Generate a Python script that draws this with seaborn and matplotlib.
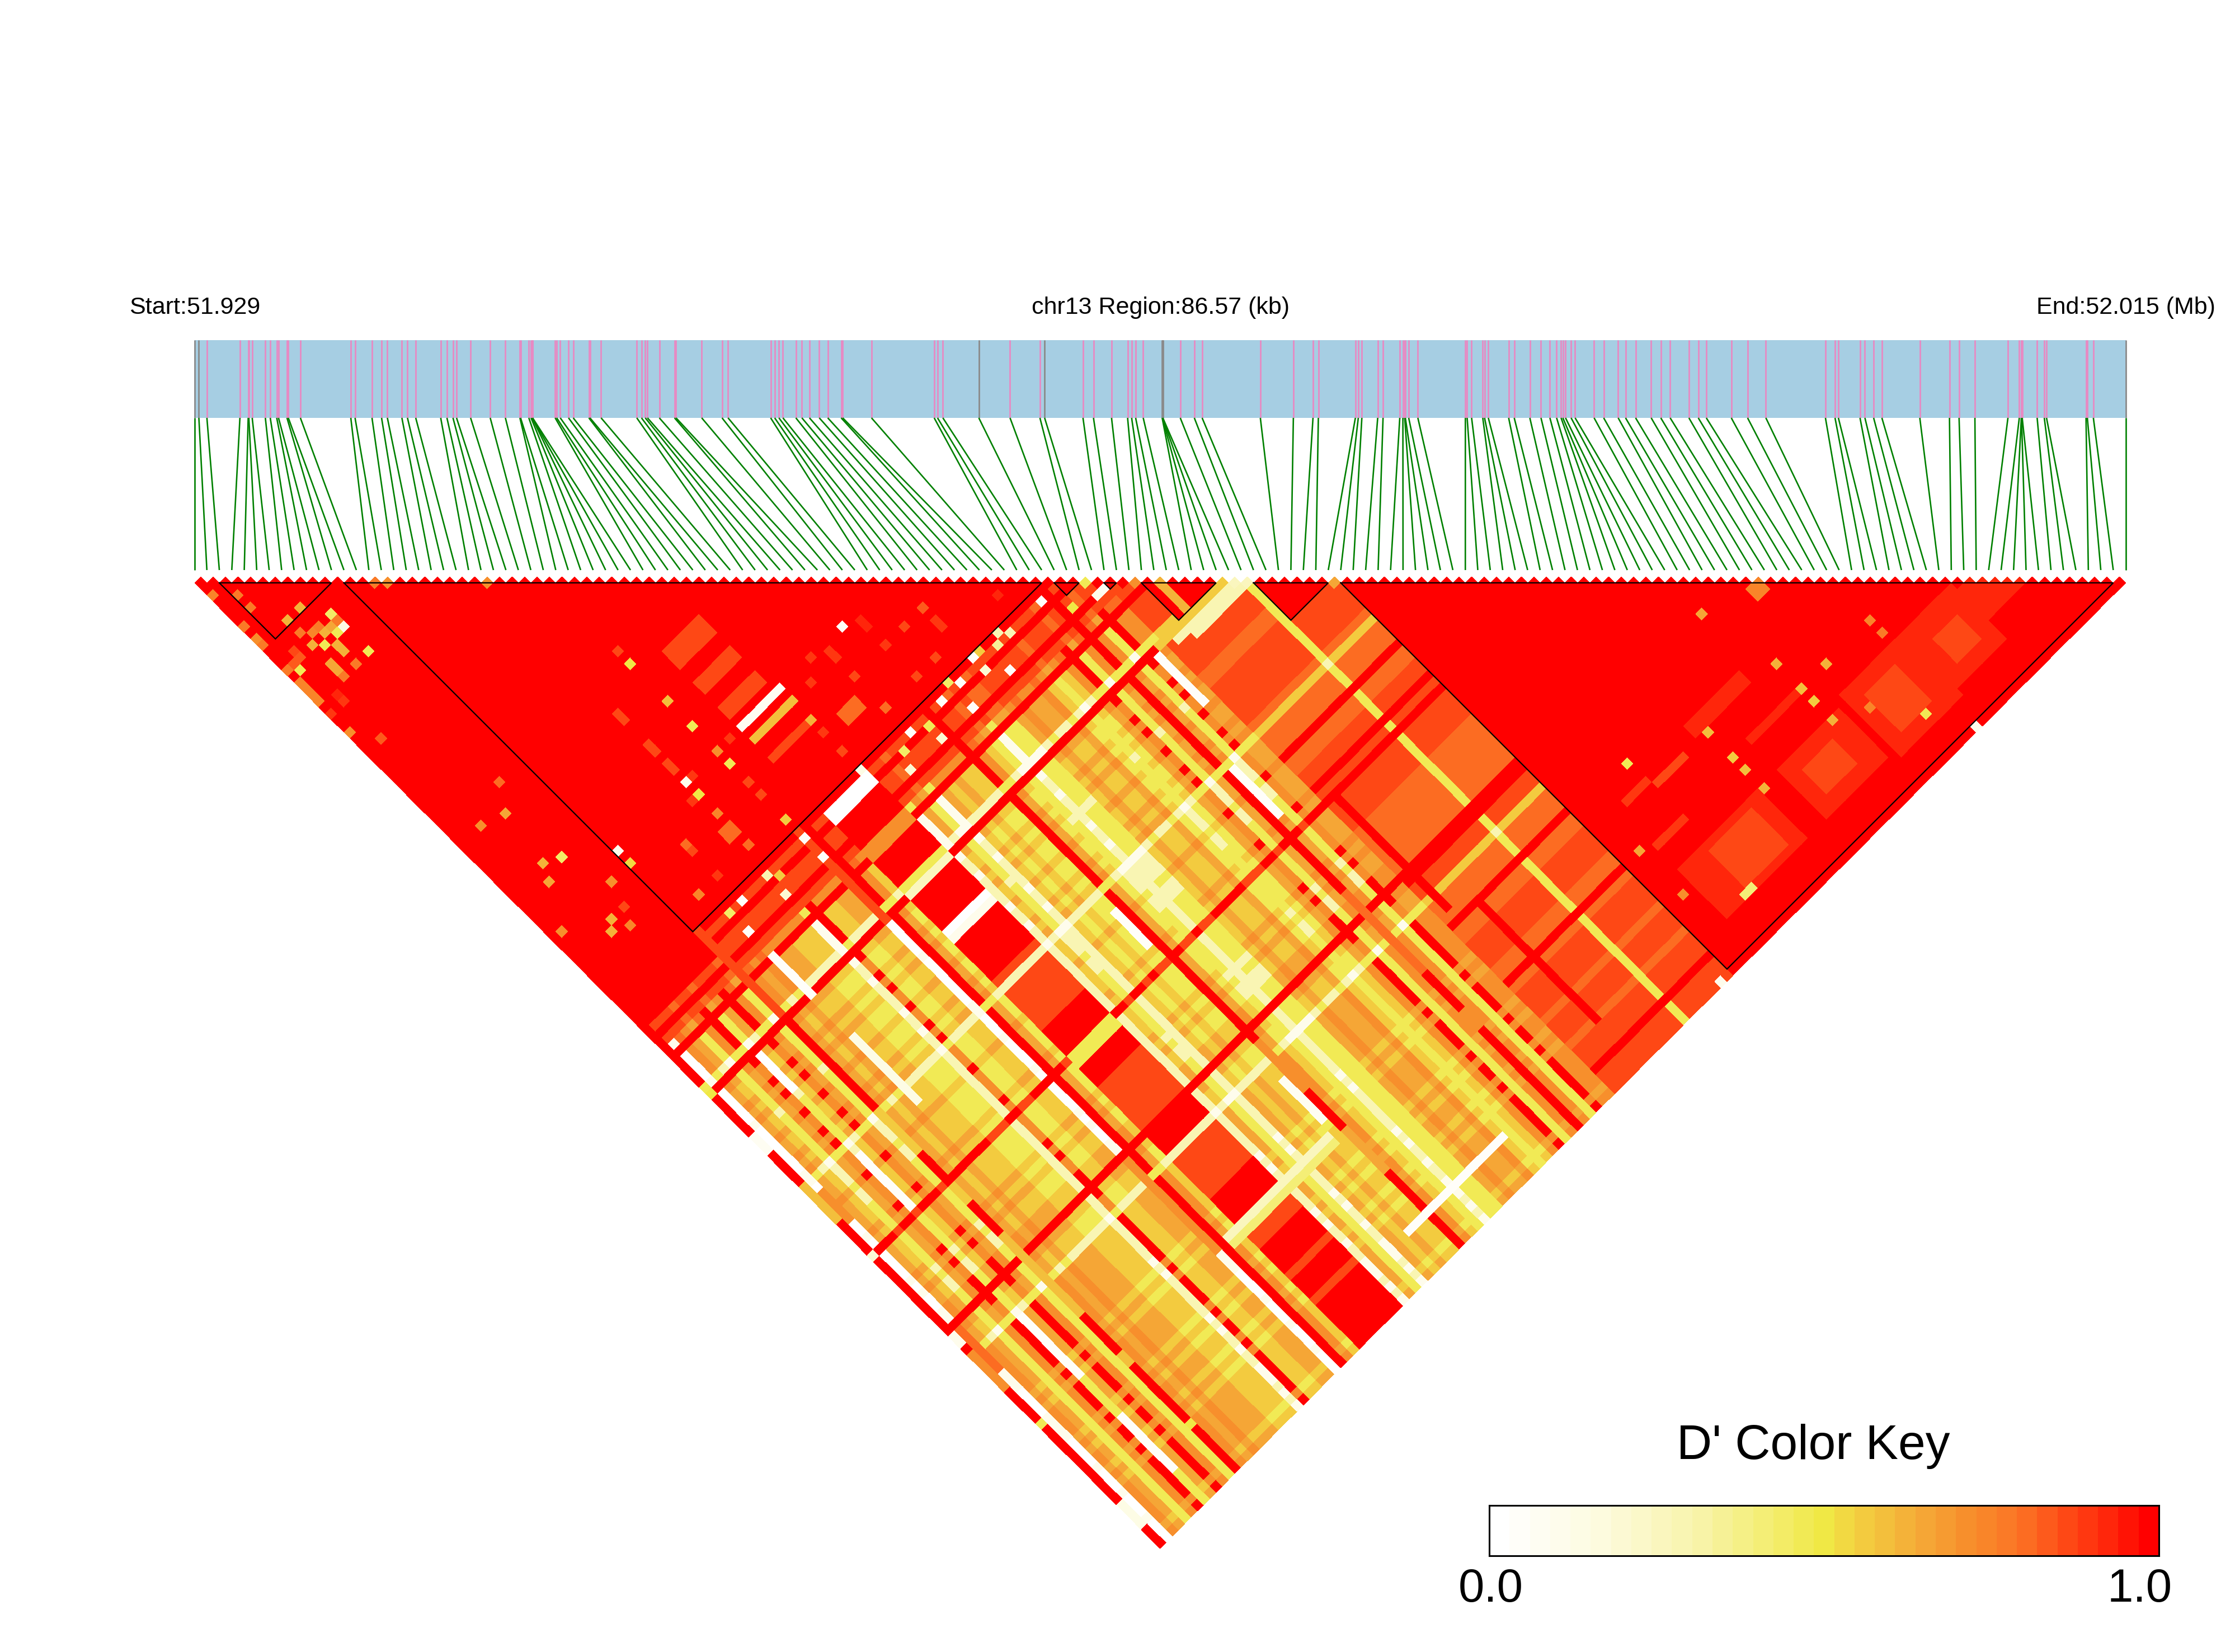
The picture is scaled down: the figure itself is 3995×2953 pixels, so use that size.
import numpy as np
import matplotlib
matplotlib.use('Agg')
import matplotlib.pyplot as plt
from matplotlib.colors import LinearSegmentedColormap
from matplotlib.patches import Rectangle
from matplotlib.transforms import Affine2D
import seaborn as sns

# SNP positions, kb from region start
snp_kb = [0, 0.20, 0.56, 2.04, 2.41, 2.44, 2.59, 3.18, 3.40, 3.69, 3.77, 4.15, 4.21, 4.75, 7.01, 7.20,
          7.96, 8.39, 8.65, 9.30, 9.55, 9.92, 11.04, 11.32, 11.59, 11.75, 12.38, 13.26, 13.94, 14.59,
          14.62, 14.99, 15.09, 15.14, 15.15, 15.16, 16.17, 16.24, 16.40, 16.77, 16.98, 17.68, 17.73,
          18.23, 19.83, 20.04, 20.21, 20.31, 20.84, 21.52, 21.59, 22.74, 23.65, 23.92, 25.83, 26.01,
          26.20, 26.38, 26.96, 27.23, 27.57, 28.01, 28.39, 28.99, 29.06, 30.35, 33.16, 33.31, 33.55,
          35.16, 36.56, 37.90, 38.11, 39.83, 40.30, 41.11, 41.83, 42.01, 42.19, 42.53, 43.38, 43.39,
          43.40, 43.41, 44.19, 44.82, 45.17, 47.78, 49.26, 50.14, 50.38, 52.04, 52.17, 52.33, 53.04,
          53.28, 54.03, 54.17, 54.25, 54.28, 54.43, 54.84, 56.97, 57.05, 57.25, 57.75, 57.83, 58.00,
          58.91, 59.16, 59.86, 60.36, 60.76, 61.06, 61.26, 61.34, 61.46, 61.71, 61.89, 62.74, 63.17,
          63.82, 64.15, 64.60, 65.30, 65.73, 66.15, 66.99, 67.41, 67.77, 68.89, 69.62, 70.44, 73.11,
          73.54, 73.69, 74.66, 74.88, 75.27, 75.64, 77.34, 78.67, 79.10, 79.81, 81.29, 81.80, 81.89,
          81.90, 81.93, 82.60, 82.92, 83.02, 84.79, 84.85, 85.12, 86.57]
grey_kb = [0, 0.20, 35.16, 38.11, 43.38, 43.39, 43.40, 43.41, 86.57]

# haplotype blocks (first SNP, last SNP)
hap_blocks = [(2, 11), (12, 68), (69, 71), (73, 74), (76, 82), (85, 91), (92, 154)]
# areas of full D' (i0, i1, j0, j1)
red_areas = [(0, 11, 0, 72), (12, 68, 12, 68), (69, 71, 69, 71), (73, 74, 73, 74), (76, 82, 76, 82),
             (85, 91, 85, 91), (92, 155, 92, 155)]

# D' levels used in the band table
levels = [0.0, 0.12, 0.30, 0.48, 0.56, 0.64, 0.72, 0.80, 0.87, 1.0]
col_keys = 'ewpqaznyosrtux'
band_table = {
    'R': '91399999999991',
    'W': '80190010199110',
    'P': '80191222399220',
    'Q': '70293333399992',
    'B': '80229988639899',
    'A': '80295454699551',
    'G': '81294343689441',
    'Y': '70193332589330',
    'O': '81396565799662',
    'E': '83498877899994',
    'S': '80399696999991',
}
# band of SNP as left member of a pair (SNP 0-91)
row_bands = ('RWOAYOSYASOY' 'ROAOA' 'AAGGG' 'PS' 'GGAA' 'WROG' 'BBBBBBB' 'PAYPAGAGGR'
             'OGYPYYAOAAOGYGOSYORO' 'YSOOEEEEE' 'EEEEEE' 'Q' 'EEEEEEE')
# band of SNP as right member of a pair (SNP 69-155)
col_bands = ('r' 'er' 'eere' 'o' 'q' 'aaaa' 'p' 'q' 'azzaz' 'n' 'y' 'zazzaz' 'n' 'p' 'yyy' 't' 'yy' 'zz'
             'u' 'z' 's' 'z' 'zzz' 'nynyynn' 'r' 'u' 'zz' 'p' 'nnn' 't' 'nn' 'azaz' 'nn' 't' 'n' 'zaza'
             'n' 'zaz' 'n' 'a' 'a' 'a' 'u' 'aza')

patches = [
    (32, 37, 44, 46, .87), (32, 37, 49, 50, .87), (32, 37, 53, 54, .87), (32, 38, 56, 56, .08),
    (32, 38, 58, 58, .60), (32, 37, 61, 61, .87), (38, 38, 61, 61, .62), (41, 43, 63, 64, .80),
    (23, 23, 50, 51, .85), (23, 23, 53, 54, .87), (23, 23, 45, 46, .87), (22, 23, 63, 64, .80),
    (45, 45, 57, 58, .90), (50, 50, 57, 58, .92), (56, 56, 63, 64, .90),
    (112, 121, 143, 150, .93), (114, 118, 145, 148, .87), (96, 108, 143, 150, .93), (100, 106, 144, 149, .87),
    (123, 132, 142, 151, .93), (125, 129, 144, 149, .87), (132, 140, 142, 150, .93), (135, 138, 145, 148, .87),
    (139, 147, 143, 147, .93), (108, 116, 132, 133, .93), (112, 120, 138, 138, .93), (96, 100, 139, 139, .90),
    (97, 100, 133, 133, .90), (101, 105, 134, 134, .87), (124, 125, 126, 127, .75),
    (0, 0, 17, 20, .74), (4, 4, 18, 19, .64), (6, 6, 17, 18, .62),
    # big rows, left end of the plaid
    (32, 38, 70, 71, .02), (32, 38, 72, 75, 1.0), (32, 38, 76, 77, .72), (32, 38, 82, 82, .48), (32, 38, 83, 83, .25),
    (32, 38, 89, 89, .02), (32, 38, 90, 90, .12), (32, 38, 110, 110, .48),
    (30, 46, 136, 136, .25), (30, 46, 137, 137, .40), (45, 60, 150, 150, .04),
    # pieces of the white and red rows
    (68, 68, 99, 106, .05), (71, 71, 84, 91, .05), (47, 47, 101, 106, .05), (47, 47, 128, 134, .08),
    (16, 16, 77, 83, .05), (16, 16, 90, 100, .15), (28, 28, 69, 83, .87), (28, 28, 122, 136, .72),
    (7, 7, 84, 89, .03), (7, 7, 100, 108, .05), (7, 7, 126, 135, .05), (7, 7, 142, 150, .05),
    (1, 1, 100, 104, .72), (1, 1, 122, 128, .80),
    (67, 67, 118, 130, .80), (67, 67, 137, 139, .72), (74, 74, 110, 127, 1.0), (77, 77, 130, 148, 1.0),
    (48, 48, 123, 130, .72), (48, 48, 137, 143, .64),
    (12, 12, 69, 82, .87), (12, 12, 98, 104, .56), (12, 12, 110, 112, .56), (12, 12, 118, 130, .60),
    (12, 12, 137, 138, .60), (12, 12, 148, 148, .50),
    (0, 0, 83, 83, .50), (0, 0, 90, 92, .08), (0, 0, 98, 103, .60), (0, 0, 109, 109, .20), (0, 0, 122, 123, .10),
    (0, 0, 125, 130, .70), (0, 0, 136, 136, .48), (0, 0, 149, 152, .15),
    (77, 77, 78, 82, .62),
]
spots = [
    (48, 56, .05), (28, 48, .58), (28, 52, .48), (28, 58, .48), (28, 56, .72), (28, 42, .50), (28, 40, .85),
    (23, 56, .10), (23, 58, .50), (24, 56, .90), (22, 58, .90), (12, 56, .10), (12, 58, .52), (28, 67, .55),
    (23, 61, .75), (28, 63, .85), (28, 61, .85), (30, 56, .90), (38, 66, .87), (38, 63, .90), (45, 66, .80),
    (50, 66, .85), (53, 66, .85), (56, 61, .82), (63, 66, .92), (53, 61, .87), (50, 61, .90), (43, 56, .90),
    (45, 61, .85), (41, 58, .90), (23, 66, .80), (18, 66, .88), (18, 61, .80), (18, 62, .85), (15, 66, .75),
    (8, 61, .87), (7, 63, .75), (5, 62, .62),
    (118, 124, .64), (120, 134, .62), (124, 138, .62), (120, 138, .58), (120, 140, .57), (120, 143, .62),
    (109, 134, .58), (109, 138, .56), (109, 140, .60), (109, 143, .62), (100, 130, .48), (94, 138, .65),
    (131, 138, .75), (131, 140, .78), (124, 145, .75), (128, 150, .48), (94, 145, .72), (100, 150, .42),
    (99, 150, .42), (131, 155, .12), (90, 155, .10),
    (0, 3, .74), (2, 5, .76), (2, 7, .76), (6, 11, .62), (4, 11, .62), (8, 14, .44), (8, 15, .78), (8, 16, .15),
    (7, 16, .48), (7, 15, .66), (6, 14, .76), (6, 15, .62), (4, 13, .76), (5, 14, .74), (4, 15, .62), (5, 16, .48),
    (0, 8, .76), (0, 10, .72), (0, 11, .78), (2, 14, .85), (2, 15, .84), (1, 15, .84), (0, 15, .76), (1, 16, .48),
    (8, 20, .48), (6, 20, .78), (4, 20, .76), (2, 22, .90), (2, 21, .92), (0, 22, .90), (0, 25, .72), (2, 28, .84),
    (8, 41, .80), (6, 44, .66), (3, 43, .70), (5, 51, .62), (7, 52, .45), (4, 53, .66), (9, 58, .72), (6, 61, .62),
    (1, 58, .70),
    # tips along the top row
    (14, 15, .76), (15, 16, .70), (23, 24, .72), (71, 72, .48), (72, 74, .08), (75, 76, .72), (91, 92, .66),
    (82, 83, .56), (83, 84, .25), (84, 85, .25),
    # specks right of the second block
    (56, 69, .05), (38, 69, .15), (57, 69, .55), (66, 70, .04), (68, 73, .50), (60, 69, .30), (61, 70, .30),
    (59, 70, .35), (56, 71, .20), (58, 73, .04), (53, 70, .04), (50, 70, .04), (52, 73, .04), (45, 70, .04),
    (47, 71, .48), (52, 69, .45), (42, 73, .20), (43, 71, .45), (47, 73, .20), (28, 70, .05), (28, 73, .05),
    (22, 70, .30), (23, 71, .56), (18, 70, .04), (22, 73, .20), (16, 70, .45), (16, 73, .04), (71, 74, .10),
]
# gold and pale bands hanging off the tips between the two big blocks
bands_mid = [(72, 82, 83, 83, .56), (74, 83, 84, 84, .30), (76, 84, 85, 85, .30)]

key_title = "D' Color Key"
key_ticks = ['0.0', '1.0']
start_label = 'Start:51.929'
mid_label = 'chr13 Region:86.57 (kb)'
end_label = 'End:52.015 (Mb)'

n_snp = len(snp_kb)

ld = np.full((n_snp, n_snp), np.nan)
for i in range(n_snp):
    for j in range(i + 1, n_snp):
        if j - i == 1 or i >= 92 or j < 69:
            ld[i, j] = 1.0
        else:
            digit = band_table[row_bands[i]][col_keys.index(col_bands[j - 69])]
            ld[i, j] = levels[int(digit)]
for i0, i1, j0, j1 in red_areas:
    for i in range(i0, i1 + 1):
        for j in range(max(j0, i + 1), j1 + 1):
            ld[i, j] = 1.0
for i0, i1, j0, j1, val in patches + bands_mid:
    for i in range(i0, i1 + 1):
        for j in range(max(j0, i + 1), j1 + 1):
            ld[i, j] = val
for i, j, val in spots:
    ld[i, j] = val

cmap = LinearSegmentedColormap.from_list(
    'dprime',
    [(0.0, '#ffffff'), (0.15, '#fdfbe0'), (0.30, '#f8f4ad'), (0.50, '#f0e845'), (0.56, '#f3cc3f'),
     (0.64, '#f4ac38'), (0.72, '#f78f2c'), (0.80, '#fb7325'), (0.87, '#fe4b16'), (0.93, '#ff2a0c'), (1.0, '#ff0000')],
    N=33)

plt.rcParams['font.family'] = ['Liberation Sans', 'DejaVu Sans']
W, H = 3995, 2953
fig = plt.figure(figsize=(W / 100, H / 100), dpi=100)
ax = fig.add_axes([0, 0, 1, 1])

sns.heatmap(ld, mask=np.isnan(ld), vmin=0, vmax=1, cmap=cmap, cbar=False,
            xticklabels=False, yticklabels=False, ax=ax)

# turn the square matrix into the hanging triangle
x0, step = 347.5, 22.272
half = step / 2
tip_y = 1030.7
mesh = ax.collections[0]
mesh.set_transform(Affine2D(np.array([[half, half, x0 - half],
                                      [half, -half, tip_y],
                                      [0, 0, 1]])) + ax.transData)
ax.set_xlim(0, W)
ax.set_ylim(H, 0)
ax.axis('off')

# gene track
bar_top, bar_bottom = 608, 747
span = snp_kb[-1]
ax.add_patch(Rectangle((x0, bar_top), step * (n_snp - 1), bar_bottom - bar_top, color='#a6cee3', lw=0, zorder=1))
line_bottom = 1019
for k, kb in enumerate(snp_kb):
    xt = x0 + kb / span * step * (n_snp - 1)
    colour = '#8a8a8a' if kb in grey_kb else '#e78ac3'
    ax.plot([xt, xt], [bar_top, bar_bottom], color=colour, lw=2.0, solid_capstyle='butt', zorder=2)
    ax.plot([xt, x0 + k * step], [bar_bottom, line_bottom], color='#008000', lw=1.9, solid_capstyle='butt', zorder=2)

# haplotype block outlines
top_line = tip_y + half
for a, b in hap_blocks:
    xa, xb = x0 + a * step, x0 + b * step
    ax.plot([xa, xb, (xa + xb) / 2, xa], [top_line, top_line, top_line + (b - a) * half, top_line],
            color='black', lw=1.6, zorder=4, solid_joinstyle='miter')

ax.text(231, 550, start_label, fontsize=31, ha='left', va='center')
ax.text(2074, 550, mid_label, fontsize=31, ha='center', va='center')
ax.text(3640, 550, end_label, fontsize=31, ha='left', va='center')

# colour key
key_ax = fig.add_axes([2662 / W, 1 - 2781 / H, 1197 / W, 90 / H])
sns.heatmap(np.linspace(0, 1, 33).reshape(1, -1), vmin=0, vmax=1, cmap=cmap, cbar=False,
            xticklabels=False, yticklabels=False, ax=key_ax)
for side in key_ax.spines.values():
    side.set_visible(True)
    side.set_linewidth(2.2)
    side.set_color('black')
ax.text(3241, 2585, key_title, fontsize=63, ha='center', va='center')
ax.text(2665, 2841, key_ticks[0], fontsize=60, ha='center', va='center')
ax.text(3825, 2841, key_ticks[1], fontsize=60, ha='center', va='center')

fig.savefig('out.png', dpi=100)
